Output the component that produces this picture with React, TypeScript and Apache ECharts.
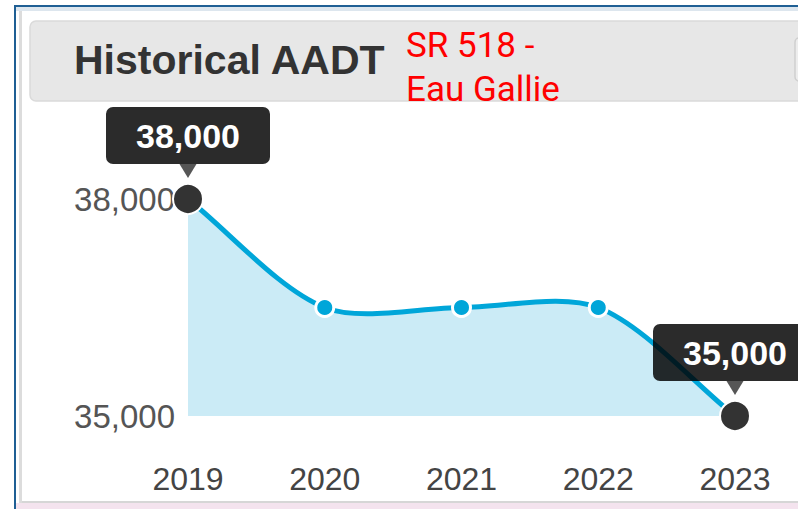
import React, { useEffect, useRef } from "react";
import * as echarts from "echarts";

const years = ["2019", "2020", "2021", "2022", "2023"];
const aadt = [38000, 36500, 36500, 36500, 35000];
const yTicks = [35000, 38000];
const titleText = "Historical AADT";
const noteLines = ["SR 518 -", "Eau Gallie"];

const fmt = (v: number) => v.toLocaleString("en-US");

type Pt = number[];

// cardinal-style spline control points (tension t)
function splineControls(pts: Pt[], t: number) {
  return pts.map((cur, i) => {
    const prev = pts[i - 1] || cur;
    const next = pts[i + 1] || cur;
    const d01 = Math.hypot(cur[0] - prev[0], cur[1] - prev[1]);
    const d12 = Math.hypot(next[0] - cur[0], next[1] - cur[1]);
    const sum = d01 + d12;
    const s01 = sum ? d01 / sum : 0;
    const s12 = sum ? d12 / sum : 0;
    const fa = t * s01;
    const fb = t * s12;
    return {
      prev: [cur[0] - fa * (next[0] - prev[0]), cur[1] - fa * (next[1] - prev[1])],
      next: [cur[0] + fb * (next[0] - prev[0]), cur[1] + fb * (next[1] - prev[1])],
    };
  });
}

export default function App() {
  const ref = useRef<HTMLDivElement>(null);
  useEffect(() => {
    if (!ref.current) return;
    const chart = echarts.init(ref.current, undefined, { renderer: "svg" });
    const last = aadt.length - 1;
    const boxColor = "rgba(0,0,0,0.83)";
    const lineColor = "#00a6d9";
    const lineData = aadt.map((v, i) => {
      if (i === 0 || i === last) {
        return {
          value: v,
          symbolSize: 30,
          itemStyle: { color: "#333333", borderColor: "#ffffff", borderWidth: 2 },
          label: {
            show: true,
            position: "top",
            distance: 19,
            formatter: (p: any) => fmt(p.value),
            color: "#ffffff",
            fontFamily: "Liberation Sans, Arial, sans-serif",
            fontWeight: "bold",
            fontSize: 34,
            lineHeight: 37,
            backgroundColor: boxColor,
            borderRadius: 7,
            padding: [10, 30],
          },
        };
      }
      return { value: v };
    });
    const arrowData = aadt.map((v, i) => (i === 0 || i === last ? v : "-"));

    chart.setOption({
      animation: false,
      backgroundColor: "#ffffff",
      grid: { left: 188, right: 63, top: 199, bottom: 93, containLabel: false },
      xAxis: {
        type: "category",
        data: years,
        boundaryGap: false,
        axisLine: { show: false },
        axisTick: { show: false },
        splitLine: { show: false },
        axisLabel: {
          color: "#444444",
          fontSize: 32,
          fontFamily: "Liberation Sans, Arial, sans-serif",
          margin: 47,
        },
      },
      yAxis: {
        type: "value",
        min: yTicks[0],
        max: yTicks[yTicks.length - 1],
        interval: yTicks[1] - yTicks[0],
        axisLine: { show: false },
        axisTick: { show: false },
        splitLine: { show: false },
        axisLabel: {
          color: "#555555",
          fontSize: 33,
          fontFamily: "Liberation Sans, Arial, sans-serif",
          margin: 13,
          formatter: (v: number) => fmt(v),
        },
      },
      series: [
        {
          type: "custom",
          coordinateSystem: "cartesian2d",
          data: aadt.map((v, i) => [i, v]),
          encode: { x: 0, y: 1 },
          silent: true,
          z: 1,
          renderItem: (params: any, api: any) => {
            if (params.dataIndex !== 0) return { type: "group", children: [] };
            const pts: Pt[] = aadt.map((v, i) => api.coord([i, v]));
            const base = api.coord([0, yTicks[0]])[1];
            const cps = splineControls(pts, 0.3);
            let d = `M${pts[0][0]},${pts[0][1]}`;
            for (let i = 1; i < pts.length; i++) {
              const a = cps[i - 1].next;
              const b = cps[i].prev;
              d += ` C${a[0]},${a[1]} ${b[0]},${b[1]} ${pts[i][0]},${pts[i][1]}`;
            }
            const area =
              d +
              ` L${pts[pts.length - 1][0]},${base} L${pts[0][0]},${base} Z`;
            return {
              type: "group",
              children: [
                { type: "path", shape: { pathData: area }, style: { fill: "#cbebf6" } },
                {
                  type: "path",
                  shape: { pathData: d },
                  style: { fill: "none", stroke: lineColor, lineWidth: 5 },
                },
              ],
            };
          },
        },
        {
          type: "line",
          data: lineData,
          symbol: "circle",
          symbolSize: 18,
          showAllSymbol: true,
          lineStyle: { opacity: 0, width: 0 },
          itemStyle: { color: lineColor, borderColor: "#ffffff", borderWidth: 3 },
          z: 3,
        },
        {
          type: "scatter",
          data: arrowData,
          symbol: "triangle",
          symbolRotate: 180,
          symbolSize: [17, 14],
          symbolOffset: [0, -28],
          itemStyle: { color: boxColor },
          silent: true,
          z: 4,
        },
      ],
      graphic: [
        // outer frame
        { type: "rect", shape: { x: 14, y: 5, width: 820, height: 2 }, style: { fill: "#1f5f94" }, z: 10 },
        { type: "rect", shape: { x: 16, y: 7, width: 800, height: 4 }, style: { fill: "#dde6ee" }, z: 10 },
        { type: "rect", shape: { x: 14, y: 5, width: 2, height: 510 }, style: { fill: "#1f5f94" }, z: 10 },
        { type: "rect", shape: { x: 19, y: 11, width: 3, height: 492 }, style: { fill: "#dcdcdc" }, z: 10 },
        { type: "rect", shape: { x: 22, y: 501, width: 800, height: 2 }, style: { fill: "#d6d6d6" }, z: 10 },
        { type: "rect", shape: { x: 16, y: 503, width: 800, height: 6 }, style: { fill: "#f4e3ee" }, z: 10 },
        // title bar
        {
          type: "rect",
          shape: { x: 30, y: 21, width: 800, height: 80, r: 6 },
          style: { fill: "#e7e7e7", stroke: "#dadada", lineWidth: 1.5 },
          z: 10,
        },
        {
          type: "rect",
          shape: { x: 795, y: 38, width: 30, height: 43, r: 4 },
          style: { fill: "#ededed", stroke: "#cfcfcf", lineWidth: 1.5 },
          z: 11,
        },
        {
          type: "text",
          x: 74,
          y: 60,
          style: {
            text: titleText,
            fill: "#333333",
            font: "bold 41px 'Liberation Sans', Arial, sans-serif",
            textVerticalAlign: "middle",
          },
          z: 12,
        },
        {
          type: "text",
          x: 406,
          y: 45,
          style: {
            text: noteLines[0],
            fill: "#ff0000",
            font: "35px Roboto, sans-serif",
            textVerticalAlign: "middle",
          },
          z: 12,
        },
        {
          type: "text",
          x: 406,
          y: 89,
          style: {
            text: noteLines[1],
            fill: "#ff0000",
            font: "35px Roboto, sans-serif",
            textVerticalAlign: "middle",
          },
          z: 12,
        },
      ],
    });
    return () => chart.dispose();
  }, []);
  return (
    <div
      ref={ref}
      style={{ position: "absolute", left: 0, top: 0, width: 798, height: 509 }}
    />
  );
}
